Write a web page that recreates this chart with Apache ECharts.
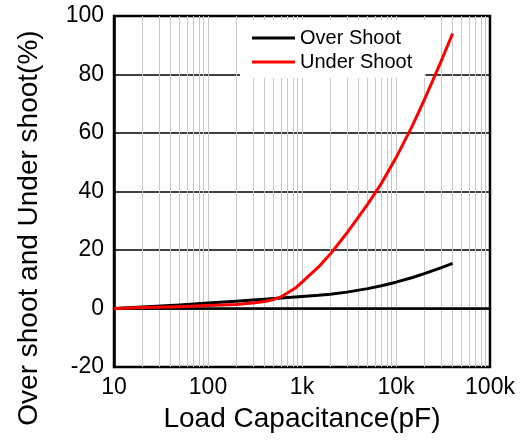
<!DOCTYPE html>
<html><head><meta charset="utf-8">
<script src="https://cdn.jsdelivr.net/npm/echarts@6/dist/echarts.min.js"></script>
<style>html,body{margin:0;padding:0;background:#fff}#c{width:528px;height:441px}</style>
</head><body><div id="c"></div>
<script>
const capacitance = [10, 20, 50, 100, 200, 300, 400, 500, 600, 700, 850, 1000, 1500, 2000, 3000, 5000, 7000, 10000, 15000, 20000, 30000, 40000];
const overShoot  = [0, 0.5, 1.2, 1.9, 2.5, 2.9, 3.2, 3.4, 3.6, 3.8, 3.95, 4.1, 4.5, 4.9, 5.6, 6.8, 7.8, 9.0, 10.6, 11.9, 13.9, 15.4];
const underShoot = [0, 0.3, 0.6, 1.0, 1.4, 1.9, 2.4, 3.1, 4.0, 5.3, 7.0, 9.0, 14.2, 18.6, 25.8, 35.7, 42.8, 51.5, 62.6, 71.3, 84.3, 94];
const xTickLabels = {10: '10', 100: '100', 1000: '1k', 10000: '10k', 100000: '100k'};
const gridXs = [20,30,40,50,60,70,80,90,100,200,300,400,500,600,700,800,900,1000,2000,3000,4000,5000,6000,7000,8000,9000,10000,20000,30000,40000,50000,60000,70000,80000,90000];
const font = 'Liberation Sans, Arial, sans-serif';

const chart = echarts.init(document.getElementById('c'));
chart.setOption({
  animation: false,
  grid: {left: 114, right: 38, top: 16, bottom: 74, show: true, borderColor: '#000', borderWidth: 2.5, backgroundColor: 'transparent'},
  legend: {
    data: [{name: 'Over Shoot', icon: 'rect'}, {name: 'Under Shoot', icon: 'rect'}],
    orient: 'vertical', left: 240, top: 20,
    backgroundColor: '#fff',
    padding: [8, 13, 6, 12],
    itemWidth: 43, itemHeight: 3, itemGap: 4,
    textStyle: {fontFamily: font, fontSize: 20, lineHeight: 20, color: '#000'}
  },
  xAxis: {
    type: 'log', logBase: 10, min: 10, max: 100000,
    axisLine: {show: true, lineStyle: {color: '#000', width: 2.5}},
    axisTick: {show: false},
    splitLine: {show: false},
    axisLabel: {fontFamily: font, fontSize: 23, color: '#000', margin: 9,
      formatter: v => xTickLabels[Math.round(v)] || ''},
    name: 'Load Capacitance(pF)', nameLocation: 'middle', nameGap: 38,
    nameTextStyle: {fontFamily: font, fontSize: 28, color: '#000'}
  },
  yAxis: {
    type: 'value', min: -20, max: 100, interval: 20,
    axisLine: {show: true, lineStyle: {color: '#000', width: 2.5}},
    axisTick: {show: false},
    splitLine: {show: true, lineStyle: {color: '#000', width: 1.5}},
    axisLabel: {fontFamily: font, fontSize: 23, color: '#000', margin: 10}
  },
  graphic: [{
    type: 'text', x: 29, y: 228, rotation: Math.PI / 2,
    style: {text: 'Over shoot and Under shoot(%)', fontFamily: font, fontSize: 28, fill: '#000', align: 'center', verticalAlign: 'middle'}
  }],
  series: [
    {
      name: 'grid', type: 'line', data: [], silent: true, z: 0,
      markLine: {silent: true, symbol: 'none', z: 0, label: {show: false},
        lineStyle: {color: '#c8c8c8', width: 1, type: 'solid'},
        data: gridXs.map(v => ({xAxis: v}))}
    },
    {
      name: 'Over Shoot', type: 'line', smooth: false, symbol: 'none', z: 3,
      lineStyle: {color: '#000', width: 3, join: 'round'}, itemStyle: {color: '#000'},
      data: capacitance.map((c, i) => [c, overShoot[i]])
    },
    {
      name: 'Under Shoot', type: 'line', smooth: false, symbol: 'none', z: 4,
      lineStyle: {color: '#ff0000', width: 3, join: 'round'}, itemStyle: {color: '#ff0000'},
      data: capacitance.map((c, i) => [c, underShoot[i]])
    }
  ]
});
</script></body></html>
